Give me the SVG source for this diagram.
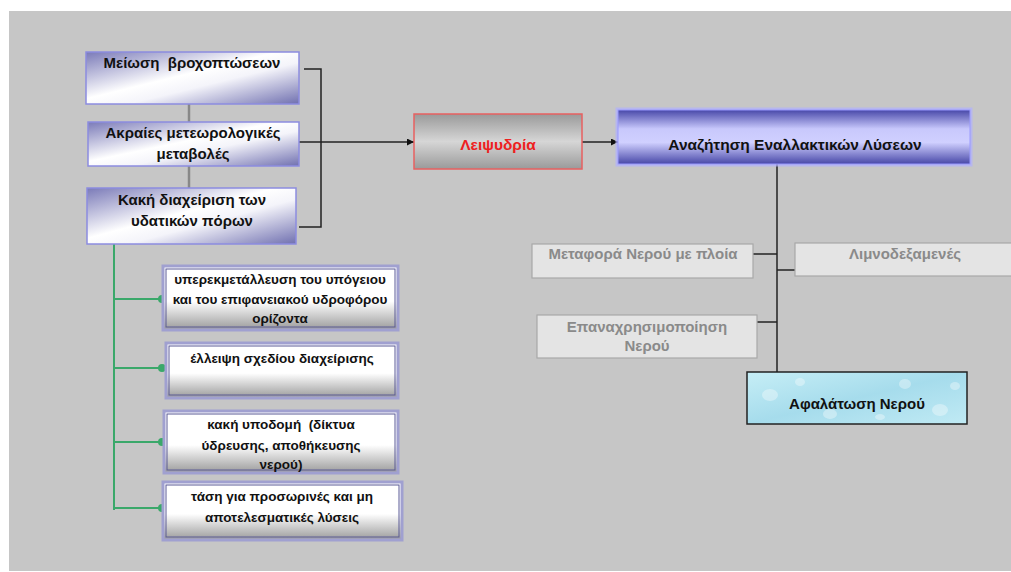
<svg xmlns="http://www.w3.org/2000/svg" width="1011" height="572" viewBox="0 0 1011 572">
<defs>
<linearGradient id="gPurple" x1="0" y1="0" x2="1" y2="1">
<stop offset="0" stop-color="#7a7ab8"/>
<stop offset="0.45" stop-color="#ffffff"/>
<stop offset="0.6" stop-color="#f4f4fa"/>
<stop offset="1" stop-color="#7070b0"/>
</linearGradient>
<linearGradient id="gWhiteGray" x1="0" y1="0" x2="0" y2="1">
<stop offset="0" stop-color="#ffffff"/>
<stop offset="0.55" stop-color="#ffffff"/>
<stop offset="1" stop-color="#9a9a9a"/>
</linearGradient>
<linearGradient id="gRed" x1="0" y1="0" x2="0" y2="1">
<stop offset="0" stop-color="#9a9a9a"/>
<stop offset="0.5" stop-color="#d6d6d6"/>
<stop offset="1" stop-color="#9a9a9a"/>
</linearGradient>
<linearGradient id="gBlue" x1="0" y1="0" x2="0" y2="1">
<stop offset="0" stop-color="#4848a8"/>
<stop offset="0.35" stop-color="#c8c8fc"/>
<stop offset="0.6" stop-color="#d0d0ff"/>
<stop offset="1" stop-color="#4848a8"/>
</linearGradient>
<linearGradient id="gWater" x1="0" y1="0" x2="1" y2="1">
<stop offset="0" stop-color="#c6eef6"/>
<stop offset="0.5" stop-color="#a6dcec"/>
<stop offset="1" stop-color="#c0eaf4"/>
</linearGradient>
<marker id="arr" viewBox="0 0 10 10" refX="10" refY="5" markerWidth="7" markerHeight="7" orient="auto" markerUnits="userSpaceOnUse">
<path d="M0,0 L10,5 L0,10 z" fill="#111"/>
</marker>
<style>
.t{font-family:"Liberation Sans",Arial,sans-serif;font-weight:bold;text-anchor:middle;white-space:pre}
.tl{font-size:15px;fill:#111}
.tb{font-size:13.5px;fill:#111}
.tg{font-size:15px;fill:#8a8a8a}
.pbox{fill:url(#gPurple);stroke:#8c8ce0;stroke-width:1.5}
.wbox{fill:url(#gWhiteGray);stroke:#a0a0d0;stroke-width:3}
.wbin{fill:none;stroke:#5a5a96;stroke-width:1}
.gbox{fill:#e4e4e4;stroke:#a8a8a8;stroke-width:1.2}
.ln{fill:none;stroke:#222;stroke-width:1.5}
.gl{fill:none;stroke:#3aa86a;stroke-width:2}
.dot{fill:#3aa86a}
</style>
</defs>
<rect x="0" y="0" width="1011" height="572" fill="#ffffff"/>
<rect x="9" y="11" width="1002" height="560" fill="#c6c6c6"/>

<g id="connectors">
<line x1="189" y1="104" x2="189" y2="122" stroke="#888" stroke-width="2.5"/>
<line x1="189" y1="166" x2="189" y2="188" stroke="#888" stroke-width="2.5"/>
<polyline class="ln" points="304,69 321,69 321,227 299,227"/>
<line class="ln" x1="299" y1="142" x2="414" y2="142" marker-end="url(#arr)"/>
<line class="ln" x1="582" y1="142" x2="618" y2="142" marker-end="url(#arr)"/>
<line class="ln" x1="777" y1="164" x2="777" y2="372"/>
<line class="ln" x1="753" y1="254" x2="777" y2="254"/>
<line class="ln" x1="777" y1="270" x2="795" y2="270"/>
<line class="ln" x1="757" y1="322" x2="777" y2="322"/>
<polyline class="gl" points="114,244 114,510"/>
<line class="gl" x1="114" y1="299" x2="162" y2="299"/>
<line class="gl" x1="114" y1="368" x2="162" y2="368"/>
<line class="gl" x1="114" y1="442" x2="162" y2="442"/>
<line class="gl" x1="114" y1="508" x2="162" y2="508"/>
<circle class="dot" cx="162" cy="299" r="4"/>
<circle class="dot" cx="162" cy="368" r="4"/>
<circle class="dot" cx="162" cy="442" r="4"/>
<circle class="dot" cx="162" cy="508" r="4"/>
</g>

<g id="n-meiosi">
<rect class="pbox" x="86" y="52" width="213" height="52"/>
<text class="t tl" x="192" y="68">Μείωση  βροχοπτώσεων</text>
</g>
<g id="n-akraies">
<rect class="pbox" x="88" y="122" width="211" height="44"/>
<text class="t tl" x="193" y="138">Ακραίες μετεωρολογικές</text>
<text class="t tl" x="193" y="159">μεταβολές</text>
</g>
<g id="n-kaki">
<rect class="pbox" x="87" y="188" width="209" height="56"/>
<text class="t tl" x="192" y="205">Κακή διαχείριση των</text>
<text class="t tl" x="192" y="226">υδατικών πόρων</text>
</g>

<g id="n-yperekm">
<rect class="wbox" x="163" y="266" width="235" height="64"/>
<rect class="wbin" x="166" y="269" width="229" height="58"/>
<text class="t tb" x="280" y="284">υπερεκμετάλλευση του υπόγειου</text>
<text class="t tb" x="280" y="304">και του επιφανειακού υδροφόρου</text>
<text class="t tb" x="280" y="323">ορίζοντα</text>
</g>
<g id="n-elleipsi">
<rect class="wbox" x="166" y="343" width="232" height="55"/>
<rect class="wbin" x="169" y="346" width="226" height="49"/>
<text class="t tb" x="282" y="363">έλλειψη σχεδίου διαχείρισης</text>
</g>
<g id="n-ypodomi">
<rect class="wbox" x="164" y="411" width="234" height="62"/>
<rect class="wbin" x="167" y="414" width="228" height="56"/>
<text class="t tb" x="281" y="429">κακή υποδομή  (δίκτυα</text>
<text class="t tb" x="281" y="450">ύδρευσης, αποθήκευσης</text>
<text class="t tb" x="281" y="469">νερού)</text>
</g>
<g id="n-tasi">
<rect class="wbox" x="163" y="482" width="239" height="58"/>
<rect class="wbin" x="166" y="485" width="233" height="52"/>
<text class="t tb" x="282" y="501">τάση για προσωρινές και μη</text>
<text class="t tb" x="282" y="522">αποτελεσματικές λύσεις</text>
</g>

<g id="n-leipsydria">
<rect x="414" y="114" width="168" height="55" fill="url(#gRed)" stroke="#e86060" stroke-width="1.5"/>
<text class="t tl" x="498" y="150" style="fill:#ee2020;font-size:15.5px">Λειψυδρία</text>
</g>
<g id="n-anazitisi">
<rect x="617" y="109" width="354" height="56" fill="none" stroke="#b0b0ff" stroke-width="3" opacity="0.7"/>
<rect x="618" y="110" width="352" height="54" fill="url(#gBlue)" stroke="#9a9aff" stroke-width="1"/>
<text class="t tl" x="795" y="150" style="font-size:15.5px">Αναζήτηση Εναλλακτικών Λύσεων</text>
</g>

<g id="n-metafora">
<rect class="gbox" x="532" y="244" width="221" height="34"/>
<text class="t tg" x="643" y="259">Μεταφορά Νερού με πλοία</text>
</g>
<g id="n-limnodexamenes">
<rect class="gbox" x="795" y="243" width="220" height="33"/>
<text class="t tg" x="905" y="259">Λιμνοδεξαμενές</text>
</g>
<g id="n-epanachrisi">
<rect class="gbox" x="537" y="315" width="220" height="43"/>
<text class="t tg" x="647" y="332">Επαναχρησιμοποίηση</text>
<text class="t tg" x="647" y="351">Νερού</text>
</g>
<g id="n-afalatosi">
<rect x="747" y="372" width="220" height="52" fill="url(#gWater)" stroke="#222" stroke-width="1.5"/>
<g fill="#ffffff" opacity="0.35">
<ellipse cx="770" cy="395" rx="8" ry="6"/>
<ellipse cx="800" cy="382" rx="5" ry="4"/>
<ellipse cx="830" cy="414" rx="7" ry="5"/>
<ellipse cx="905" cy="384" rx="6" ry="5"/>
<ellipse cx="940" cy="410" rx="8" ry="6"/>
<ellipse cx="955" cy="386" rx="5" ry="4"/>
<ellipse cx="880" cy="417" rx="5" ry="3"/>
</g>
<text class="t tl" x="857" y="409">Αφαλάτωση Νερού</text>
</g>
</svg>
